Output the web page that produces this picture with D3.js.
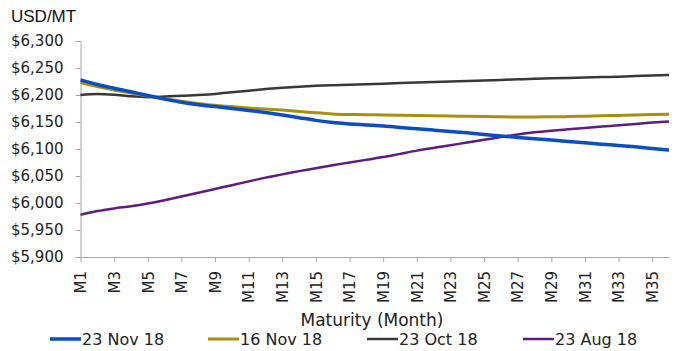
<!DOCTYPE html>
<html><head><meta charset="utf-8">
<script src="https://cdn.jsdelivr.net/npm/d3@7"></script>
<style>body{margin:0;background:#fff}svg{display:block}</style>
</head><body><svg id="c" width="676" height="351"></svg>
<script>
const months = d3.range(1, 37).map(i => "M" + i);
const tickLabels = months.filter((m, i) => i % 2 === 0);
const yTicks = [5900, 5950, 6000, 6050, 6100, 6150, 6200, 6250, 6300];
const seriesNames = ["23 Nov 18", "16 Nov 18", "23 Oct 18", "23 Aug 18"];
const nov23 = [6228,6219.5,6212.5,6206,6199,6192.5,6186.5,6182,6178.5,6175,6171.5,6167.5,6163,6158,6153,6149,6146.5,6144.5,6142.5,6140,6137.5,6135,6132.5,6130,6127,6124,6121.5,6119,6116.5,6114,6111.5,6109,6106.5,6104,6101,6098];
const nov16 = [6223,6215.5,6209,6203.5,6198,6193,6188.5,6184.5,6181,6178.5,6176,6174,6172,6169.5,6167,6165,6164,6163.5,6163,6162.5,6162,6161.5,6161,6160.5,6160,6159.5,6159.3,6159.3,6159.6,6160,6160.8,6161.5,6162.2,6163,6163.7,6164.2];
const oct23 = [6200,6202,6200.5,6197.5,6196,6197,6198.5,6200,6202,6205,6208,6211,6213.5,6215.5,6217,6218,6219,6220,6221,6222,6223,6224,6225,6226,6227,6228,6229,6230,6230.8,6231.6,6232.4,6233.2,6234,6235,6236,6237];
const aug23 = [5978,5985,5990,5994,5999,6005,6012,6019,6026,6033,6040,6047,6053,6059,6064.5,6070,6075,6080,6085,6091,6097,6102,6107,6112,6117,6122,6127,6131,6134,6136.5,6139,6141.5,6144,6146.5,6149,6151];
const colors = ["#0a4ec2", "#a8900e", "#383838", "#5e1c80"];
const widths = [3.5, 3, 2.5, 2.5];
const seriesVals = [nov23, nov16, oct23, aug23];

const svg = d3.select("#c");
const L = 80.5, R = 669, T = 41, B = 257;
const x = d3.scalePoint().domain(months).range([L, R]);
const y = d3.scaleLinear().domain([5900, 6300]).range([B, T]);
const axisColor = "#a6a6a6";
const tickFont = "'DejaVu Sans', sans-serif";

// y axis
const ya = svg.append("g").attr("transform", `translate(${L},0)`)
  .call(d3.axisLeft(y).tickValues(yTicks).tickSize(5).tickPadding(12)
    .tickFormat(d => "$" + d3.format(",")(d)));
ya.select(".domain").attr("stroke", axisColor);
ya.selectAll(".tick line").attr("stroke", axisColor);
ya.selectAll(".tick text").attr("font-family", tickFont).attr("font-size", 15).attr("fill", "#222");

// x axis
const xa = svg.append("g").attr("transform", `translate(0,${B})`)
  .call(d3.axisBottom(x).tickValues(tickLabels).tickSize(5).tickSizeOuter(0));
xa.select(".domain").attr("stroke", axisColor);
xa.selectAll(".tick line").attr("stroke", axisColor);
xa.selectAll(".tick text").attr("font-family", tickFont).attr("font-size", 15).attr("fill", "#222")
  .attr("transform", "rotate(-90)").attr("text-anchor", "end")
  .attr("x", -14).attr("y", 0).attr("dy", "0.35em");

// titles
svg.append("text").attr("x", 11).attr("y", 22).attr("font-family", "'Liberation Sans', Arial, sans-serif")
  .attr("font-size", 17).attr("fill", "#111").text("USD/MT");
svg.append("text").attr("x", 372).attr("y", 326).attr("text-anchor", "middle")
  .attr("font-family", tickFont).attr("font-size", 17).attr("fill", "#222").text("Maturity (Month)");

// lines
const line = d3.line().x((d, i) => x(months[i])).y(d => y(d)).curve(d3.curveMonotoneX);
[3, 2, 1, 0].forEach(k => {
  svg.append("path").datum(seriesVals[k]).attr("d", line).attr("fill", "none")
    .attr("stroke", colors[k]).attr("stroke-width", widths[k]).attr("stroke-linejoin", "round");
});

// legend
const legX = [50, 208, 367, 523];
seriesNames.forEach((n, k) => {
  const g = svg.append("g").attr("transform", `translate(${legX[k]},339)`);
  g.append("line").attr("x1", 0).attr("x2", 31).attr("stroke", colors[k]).attr("stroke-width", widths[k]);
  g.append("text").attr("x", 32).attr("dy", "0.35em").attr("font-family", tickFont)
    .attr("font-size", 16).attr("fill", "#222").text(n);
});
</script></body></html>
